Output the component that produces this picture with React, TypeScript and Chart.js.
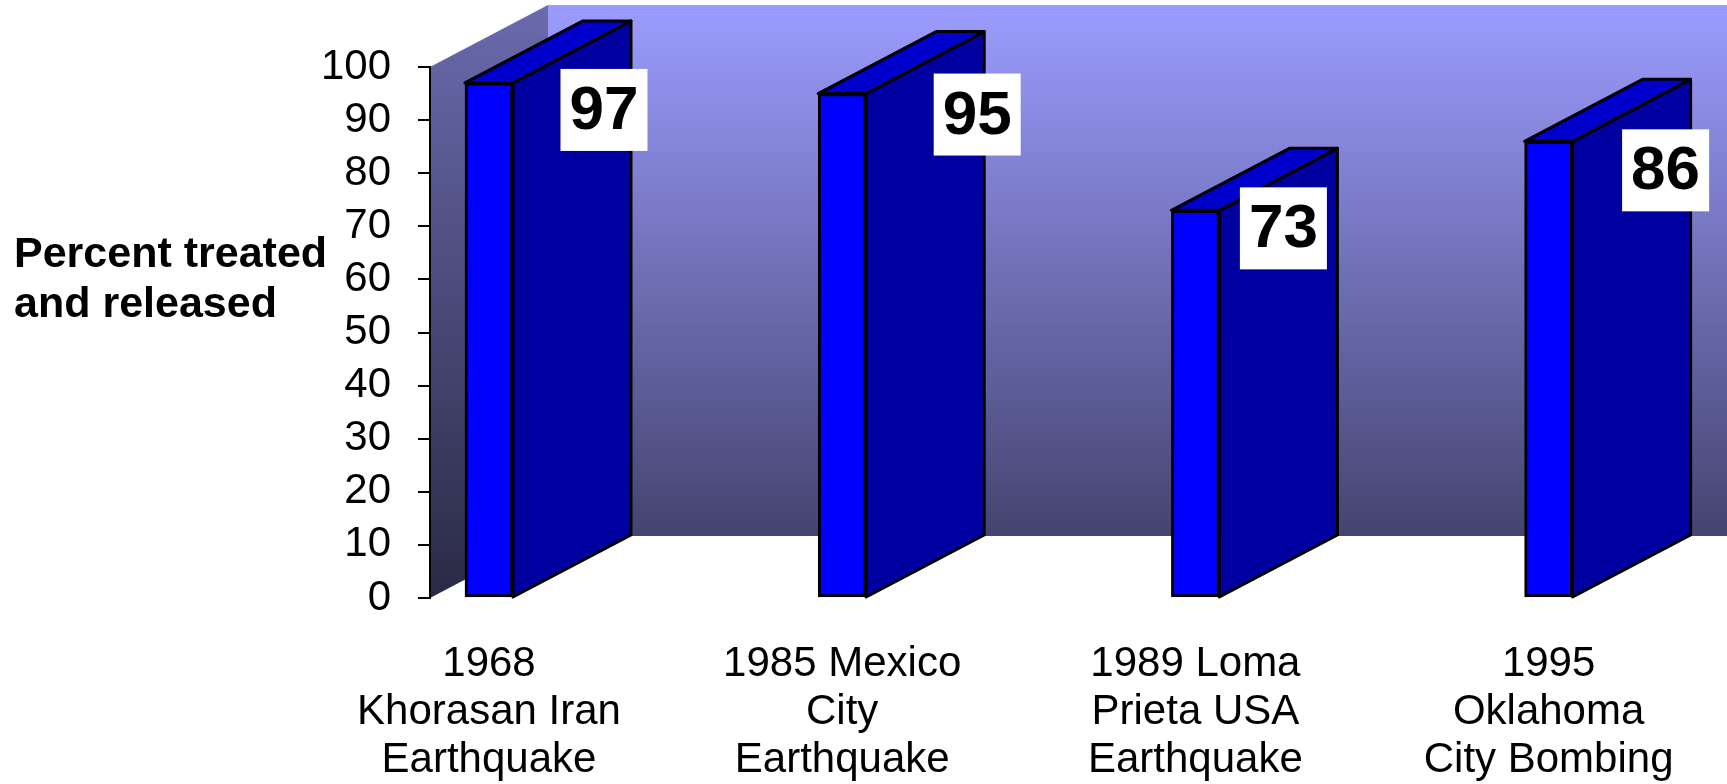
import React, { useEffect, useRef } from "react";
import { Chart, registerables } from "chart.js";

Chart.register(...registerables);

// ---------- data ----------
const categories: string[][] = [
  ["1968", "Khorasan Iran", "Earthquake"],
  ["1985 Mexico", "City", "Earthquake"],
  ["1989 Loma", "Prieta USA", "Earthquake"],
  ["1995", "Oklahoma", "City Bombing"],
];
const percentTreated: number[] = [97, 95, 73, 86];
const yAxisMin = 0;
const yAxisMax = 100;
const yAxisStep = 10;
const yAxisTitle: string[] = ["Percent treated", "and released"];

// ---------- styles ----------
const FONT = "'Liberation Sans', Arial, Helvetica, sans-serif";
const DEPTH_X = 118;
const DEPTH_Y = 62;
const FRONT_COLOR = "#0000FF";
const SIDE_COLOR = "#0000A0";
const TOP_COLOR = "#0000CC";
// value box placement relative to the bar's front top (pixels)
const valueBoxOffsets: [number, number][] = [
  [115, 27],
  [135, 21],
  [88, 18],
  [117, 29],
];
const BOX_W = 87;
const BOX_H = 82;

const threeDPlugin = {
  id: "threeD",
  beforeDraw(chart: any) {
    const { ctx, chartArea: a } = chart;
    const bx = a.left + DEPTH_X;
    const top = a.top - DEPTH_Y;
    const bot = a.bottom - DEPTH_Y;
    const right = a.right + DEPTH_X;
    ctx.save();
    // back wall
    let g = ctx.createLinearGradient(0, top, 0, bot);
    g.addColorStop(0, "#9C9CFF");
    g.addColorStop(1, "#44446F");
    ctx.fillStyle = g;
    ctx.fillRect(bx, top, right - bx, bot - top);
    // left side wall
    g = ctx.createLinearGradient(0, top, 0, a.bottom);
    g.addColorStop(0, "#6A6AAE");
    g.addColorStop(1, "#2A2A45");
    ctx.fillStyle = g;
    ctx.beginPath();
    ctx.moveTo(a.left, a.top);
    ctx.lineTo(bx, top);
    ctx.lineTo(bx, bot);
    ctx.lineTo(a.left, a.bottom);
    ctx.closePath();
    ctx.fill();
    ctx.restore();
  },
  afterDatasetsDraw(chart: any) {
    const { ctx } = chart;
    const meta = chart.getDatasetMeta(0);
    const poly = (pts: number[][], fill: string) => {
      ctx.beginPath();
      ctx.moveTo(pts[0][0], pts[0][1]);
      for (let k = 1; k < pts.length; k++) ctx.lineTo(pts[k][0], pts[k][1]);
      ctx.closePath();
      ctx.fillStyle = fill;
      ctx.fill();
      ctx.stroke();
    };
    ctx.save();
    ctx.lineJoin = "round";
    ctx.lineWidth = 3;
    ctx.strokeStyle = "#000";
    meta.data.forEach((bar: any) => {
      const { x, y, base, width } = bar.getProps(["x", "y", "base", "width"], true);
      const l = x - width / 2;
      const r = x + width / 2;
      poly(
        [
          [r, y],
          [r + DEPTH_X, y - DEPTH_Y],
          [r + DEPTH_X, base - DEPTH_Y],
          [r, base],
        ],
        SIDE_COLOR
      );
      poly(
        [
          [l, y],
          [l + DEPTH_X, y - DEPTH_Y],
          [r + DEPTH_X, y - DEPTH_Y],
          [r, y],
        ],
        TOP_COLOR
      );
    });
    // value boxes
    meta.data.forEach((bar: any, i: number) => {
      const { x, y } = bar.getProps(["x", "y"], true);
      const [ox, oy] = valueBoxOffsets[i];
      const cx = x + ox;
      const cy = y + oy;
      ctx.fillStyle = "#FFFFFF";
      ctx.fillRect(cx - BOX_W / 2, cy - BOX_H / 2, BOX_W, BOX_H);
      ctx.fillStyle = "#000";
      ctx.font = `bold 62px ${FONT}`;
      ctx.textAlign = "center";
      ctx.textBaseline = "middle";
      ctx.fillText(String(percentTreated[i]), cx, cy + 2);
    });
    ctx.restore();
  },
  afterDraw(chart: any) {
    const { ctx } = chart;
    ctx.save();
    ctx.fillStyle = "#000";
    ctx.font = `bold 43px ${FONT}`;
    ctx.textAlign = "left";
    ctx.textBaseline = "middle";
    yAxisTitle.forEach((line, i) => {
      ctx.fillText(line, 14, 255 + i * 50);
    });
    ctx.restore();
  },
};

export default function App() {
  const canvasRef = useRef<HTMLCanvasElement | null>(null);

  useEffect(() => {
    const canvas = canvasRef.current;
    if (!canvas) return;
    const chart = new Chart(canvas, {
      type: "bar",
      data: {
        datasets: [
          {
            data: percentTreated.map((v, i) => ({ x: i, y: v })) as any,
            backgroundColor: FRONT_COLOR,
            borderColor: "#000",
            borderWidth: 3,
            borderSkipped: false,
            barThickness: 48,
          } as any,
        ],
      },
      options: {
        animation: false,
        responsive: false,
        devicePixelRatio: 1,
        layout: { padding: { top: 67, right: 118, left: 0, bottom: 0 } },
        plugins: {
          legend: { display: false },
          tooltip: { enabled: false },
          title: { display: false },
        },
        scales: {
          x: {
            type: "linear",
            offset: false,
            min: -0.167,
            max: 3.171,
            afterFit: (s: any) => {
              s.height = 186;
            },
            grid: { display: false, drawTicks: false },
            border: { display: false },
            ticks: {
              stepSize: 1,
              includeBounds: false,
              autoSkip: false,
              maxRotation: 0,
              minRotation: 0,
              padding: 42,
              color: "#000",
              font: { family: FONT, size: 42, lineHeight: 48 / 42 },
              callback: (v: any) => categories[v] ?? "",
            },
          } as any,
          y: {
            min: yAxisMin,
            max: yAxisMax,
            afterFit: (s: any) => {
              s.width = 430;
            },
            grid: {
              drawOnChartArea: false,
              drawTicks: true,
              tickLength: 12,
              color: "#000",
              lineWidth: 2,
            },
            border: { display: true, color: "#000", width: 2 },
            ticks: {
              stepSize: yAxisStep,
              autoSkip: false,
              padding: 27,
              color: "#000",
              font: { family: FONT, size: 42 },
            },
          } as any,
        },
      },
      plugins: [threeDPlugin],
    });
    return () => chart.destroy();
  }, []);

  return (
    <div style={{ position: "absolute", left: 0, top: 0, width: 1727, height: 784, background: "#fff" }}>
      <canvas ref={canvasRef} width={1727} height={784} style={{ display: "block" }} />
    </div>
  );
}
